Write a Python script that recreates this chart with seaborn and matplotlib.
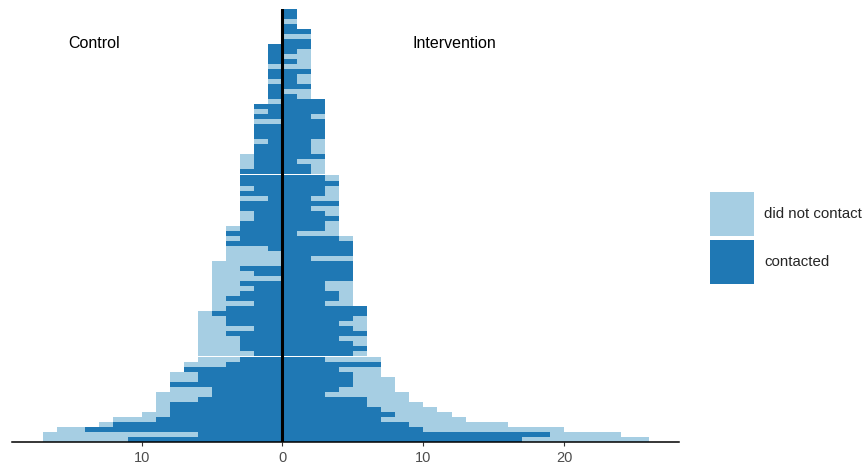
import numpy as np
import pandas as pd
import matplotlib
matplotlib.use("Agg")
import matplotlib.pyplot as plt
import seaborn as sns
from matplotlib.patches import Patch

# ---- data (one entry per row, top to bottom) ----
control_contacted = [0, 0, 0, 0, 0, 0, 0, 1, 1, 1, 1, 0, 1, 1, 0, 1, 1, 1, 0, 2,
                     1, 2, 0, 2, 2, 2, 1, 2, 2, 2, 2, 2, 3, 3, 3, 2, 3, 1, 3, 3,
                     2, 2, 3, 3, 4, 3, 4, 1, 0, 0, 0, 3, 2, 0, 3, 2, 3, 4, 2, 4,
                     5, 4, 4, 2, 4, 3, 3, 3, 2, 3, 4, 7, 6, 6, 8, 5, 5, 6, 8, 8,
                     8, 9, 12, 14, 6, 11]
control_not = [0, 0, 0, 0, 0, 0, 0, 0, 0, 0, 0, 1, 0, 0, 1, 0, 0, 0, 1, 0,
               1, 0, 2, 0, 0, 0, 1, 0, 0, 1, 1, 1, 0, 0, 0, 1, 0, 2, 0, 0,
               1, 1, 0, 1, 0, 1, 0, 3, 4, 4, 5, 2, 3, 5, 2, 3, 2, 1, 3, 1,
               1, 2, 2, 4, 2, 3, 3, 3, 4, 3, 3, 0, 2, 2, 0, 3, 4, 3, 1, 1,
               2, 3, 1, 2, 11, 6]
interv_contacted = [1, 1, 0, 1, 2, 0, 2, 2, 1, 0, 1, 0, 2, 1, 1, 2, 0, 1, 3, 3,
                    3, 2, 3, 3, 3, 3, 2, 2, 2, 3, 1, 2, 2, 3, 4, 3, 3, 2, 4, 2,
                    3, 4, 3, 3, 1, 4, 5, 5, 5, 2, 5, 5, 5, 5, 3, 3, 4, 4, 3, 6,
                    6, 5, 4, 5, 6, 4, 5, 6, 5, 3, 7, 4, 5, 5, 5, 4, 3, 6, 6, 7,
                    8, 7, 9, 10, 19, 17]
interv_not = [0, 0, 1, 0, 0, 2, 0, 0, 1, 2, 1, 2, 0, 1, 1, 0, 2, 1, 0, 0,
              0, 1, 0, 0, 0, 0, 1, 1, 1, 0, 2, 1, 1, 1, 0, 1, 1, 2, 0, 2,
              1, 0, 1, 1, 3, 1, 0, 0, 0, 3, 0, 0, 0, 0, 2, 2, 1, 1, 2, 0,
              0, 1, 2, 1, 0, 2, 1, 0, 1, 4, 0, 3, 2, 3, 3, 4, 6, 3, 4, 4,
              4, 6, 7, 10, 5, 9]
block_sizes = [33, 36, 17]
group_labels = ["Control", "Intervention"]
legend_labels = ["did not contact", "contacted"]
tick_values = [-10, 0, 10, 20]
tick_labels = ["10", "0", "10", "20"]

LIGHT = "#a6cee3"
DARK = "#1f78b4"

n = len(control_contacted)
block = np.repeat(np.arange(len(block_sizes)), block_sizes)
ypos = np.arange(n) + 0.2 * block

cc = np.array(control_contacted)
cn = np.array(control_not)
ic = np.array(interv_contacted)
inn = np.array(interv_not)

df = pd.DataFrame({
    "y": ypos,
    "c_total": -(cc + cn),
    "c_dark": -cc,
    "i_total": ic + inn,
    "i_dark": ic,
})

sns.set_theme(style="white")
plt.rcParams["font.family"] = ["Liberation Sans", "DejaVu Sans"]

fig = plt.figure(figsize=(8.65, 4.65), dpi=100)
ax = fig.add_axes([12 / 865, 1 - 442.3 / 465, (679 - 12) / 865, (442.3 - 9) / 465])

common = dict(data=df, y="y", orient="y", native_scale=True, errorbar=None,
              saturation=1, width=1, linewidth=0, ax=ax)
sns.barplot(x="c_total", color=LIGHT, **common)
sns.barplot(x="i_total", color=LIGHT, **common)
sns.barplot(x="c_dark", color=DARK, **common)
sns.barplot(x="i_dark", color=DARK, **common)

ax.axvline(0, color="black", lw=2.2, zorder=5)

ax.set_xlim(-19.2, 28.15)
ax.set_ylim(ypos[-1] + 0.5, ypos[0] - 0.5)

ax.set_yticks([])
ax.set_xticks(tick_values)
ax.set_xticklabels(tick_labels)
ax.set_xlabel("")
ax.set_ylabel("")
for s in ["left", "right", "top"]:
    ax.spines[s].set_visible(False)
ax.spines["bottom"].set_color("black")
ax.spines["bottom"].set_linewidth(1.1)
ax.tick_params(axis="x", length=3, width=0.8, color="#333333",
               labelcolor="#4d4d4d", labelsize=10.5, pad=3, bottom=True)

ax.text(-13.35, 6.3, group_labels[0], ha="center", va="center", fontsize=11.5, color="black")
ax.text(12.2, 6.3, group_labels[1], ha="center", va="center", fontsize=11.5, color="black")

handles = [Patch(facecolor=LIGHT, edgecolor="none"), Patch(facecolor=DARK, edgecolor="none")]
fs = 10.8
fs_px = fs * 100 / 72
# legend row height = fs*(0.65*hh + 0.245); solve for a 44 px key
hh = (44 / fs_px - 0.245) / 0.65
leg = fig.legend(handles, legend_labels, loc="upper left",
                 bbox_to_anchor=(710 / 865, 1 - 192 / 465),
                 frameon=False, fontsize=fs, borderpad=0, borderaxespad=0,
                 handlelength=44 / fs_px, handleheight=hh,
                 labelspacing=4 / fs_px, handletextpad=10 / fs_px)

fig.savefig("out.png", dpi=100)
